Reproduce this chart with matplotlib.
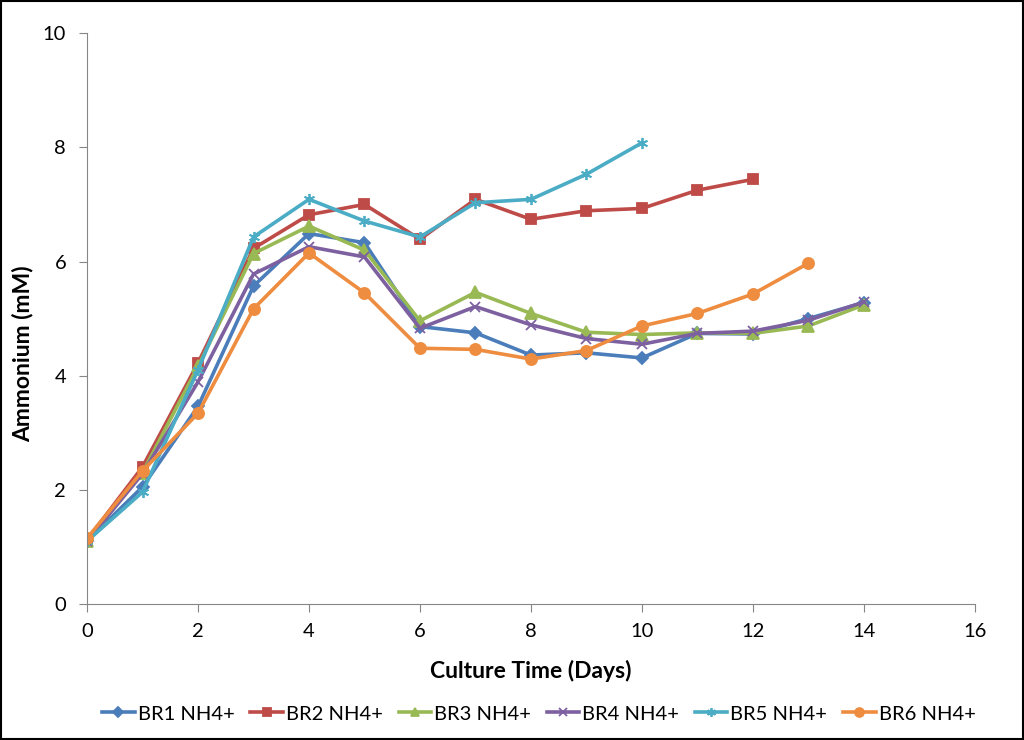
import matplotlib.pyplot as plt
from matplotlib.patches import Rectangle

plt.rcParams['font.family'] = ['Lato', 'DejaVu Sans']

# Messwerte (Ammonium in mM) je Bioreaktor
days_14 = [0, 1, 2, 3, 4, 5, 6, 7, 8, 9, 10, 11, 12, 13, 14]
br1 = [1.10, 2.05, 3.46, 5.57, 6.49, 6.33, 4.86, 4.75, 4.36, 4.40, 4.31, 4.74, 4.73, 5.00, 5.28]
br2 = [1.12, 2.40, 4.22, 6.23, 6.82, 7.00, 6.39, 7.09, 6.74, 6.89, 6.93, 7.25, 7.44]
br3 = [1.10, 2.30, 4.16, 6.14, 6.62, 6.20, 4.96, 5.46, 5.09, 4.76, 4.72, 4.75, 4.74, 4.87, 5.24]
br4 = [1.10, 2.28, 3.89, 5.78, 6.26, 6.08, 4.83, 5.21, 4.89, 4.65, 4.55, 4.74, 4.78, 4.97, 5.29]
br5 = [1.10, 1.96, 4.10, 6.43, 7.09, 6.71, 6.43, 7.03, 7.09, 7.53, 8.08]
br6 = [1.15, 2.33, 3.34, 5.17, 6.15, 5.45, 4.48, 4.46, 4.29, 4.44, 4.87, 5.09, 5.43, 5.97]

series = [
    ('BR1 NH4+', br1, '#4A7DBA', 'D', 6),
    ('BR2 NH4+', br2, '#BE4B48', 's', 7.5),
    ('BR3 NH4+', br3, '#98B954', '^', 8),
    ('BR4 NH4+', br4, '#7D60A0', 'x', 7),
    ('BR5 NH4+', br5, '#4AACC5', (6, 2, 0), 8),
    ('BR6 NH4+', br6, '#EE8C3F', 'o', 8),
]

fig = plt.figure(figsize=(10.24, 7.40), dpi=100)
ax = fig.add_axes([0.085, 0.184, 0.867, 0.771])

for label, values, color, marker, ms in series:
    ax.plot(days_14[:len(values)], values, color=color, lw=2.6, marker=marker,
            markersize=ms, markeredgewidth=1.3, markeredgecolor=color, label=label)

ax.set_xlim(0, 16)
ax.set_ylim(0, 10)
ax.set_xticks(range(0, 17, 2))
ax.set_yticks(range(0, 11, 2))
ax.tick_params(direction='out', length=6, color='#868686', labelsize=14.5)
ax.tick_params(axis='x', pad=8)
ax.tick_params(axis='y', pad=9)
for side in ['top', 'right']:
    ax.spines[side].set_visible(False)
for side in ['left', 'bottom']:
    ax.spines[side].set_color('#868686')

ax.set_xlabel('Culture Time (Days)', fontsize=16.5, fontweight='bold', labelpad=14)
ax.set_ylabel('Ammonium (mM)', fontsize=16.5, fontweight='bold')
ax.yaxis.set_label_coords(-0.06, 0.438)

ax.legend(loc='center', bbox_to_anchor=(0.509, -0.193), ncol=6, frameon=False,
          fontsize=14.5, handlelength=1.6, handletextpad=0.15, columnspacing=0.8,
          markerscale=0.8)

# Rahmen um die Grafik
fig.patches.append(Rectangle((0.001, 0.0015), 0.998, 0.997, transform=fig.transFigure,
                             fill=False, edgecolor='black', lw=1.5))

plt.savefig('out.png', dpi=100)
